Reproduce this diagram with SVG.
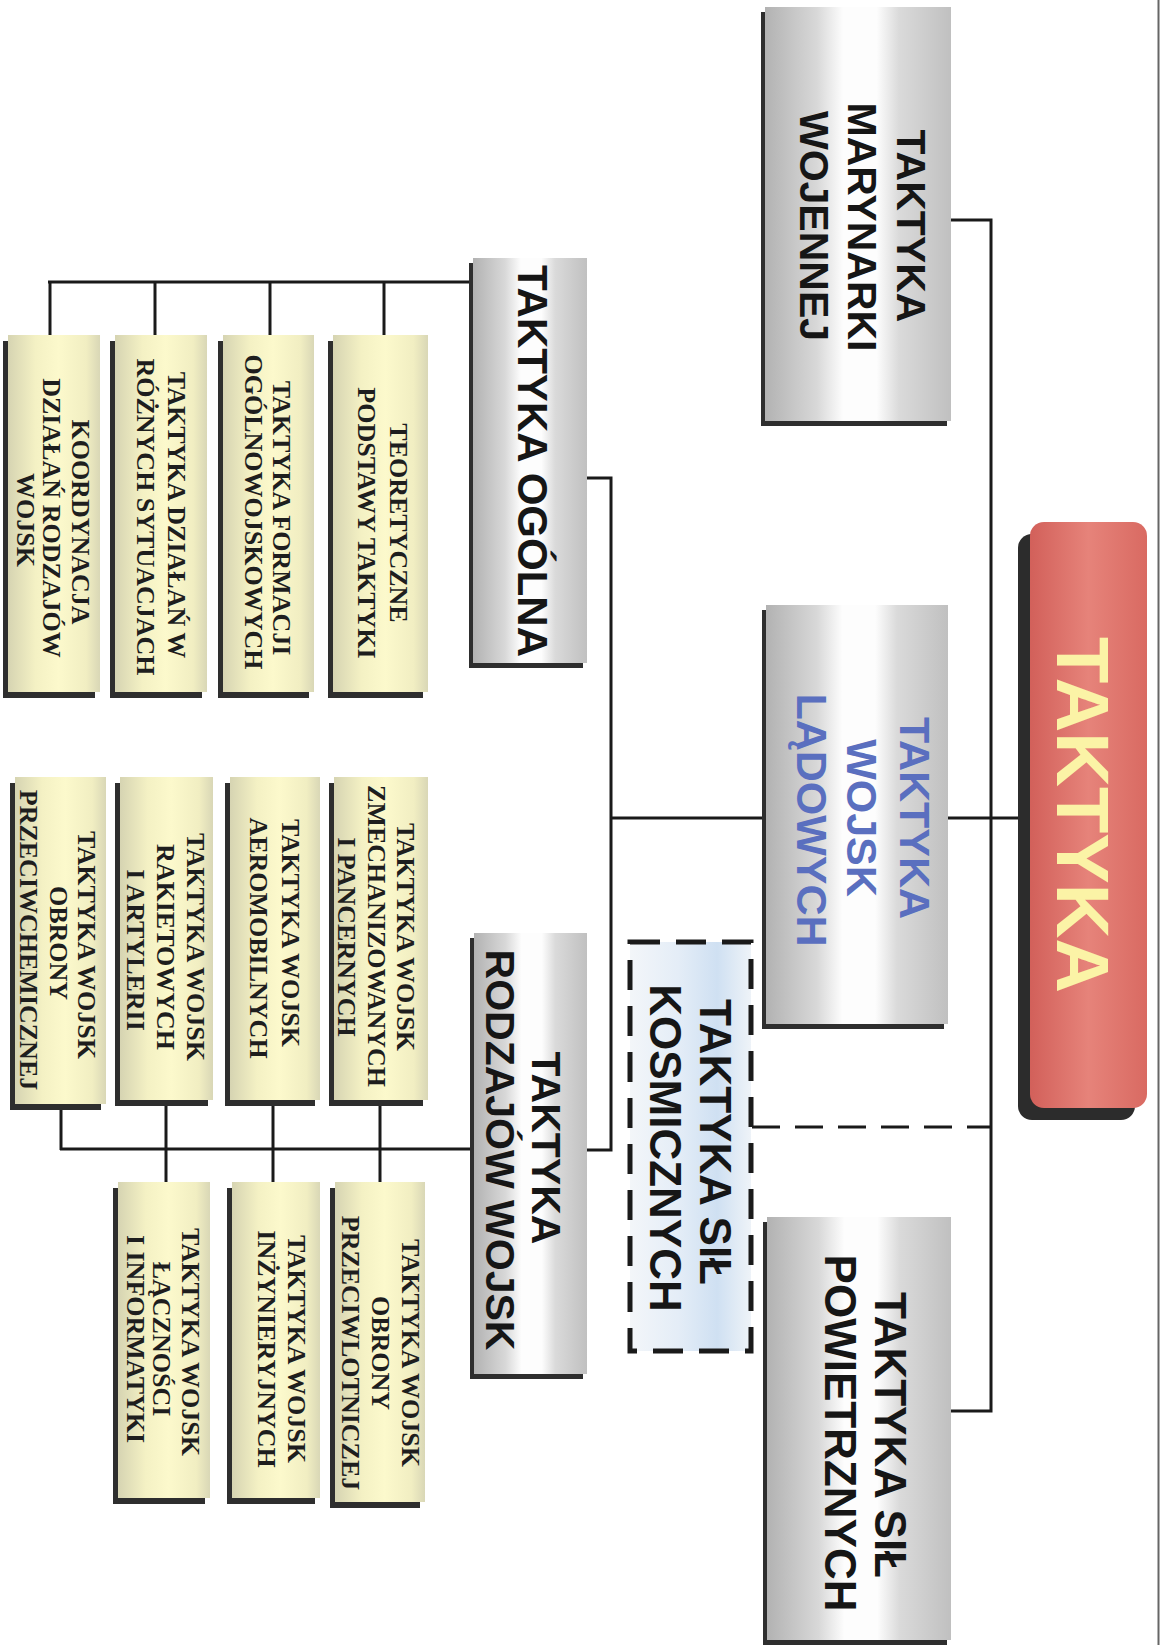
<svg xmlns="http://www.w3.org/2000/svg" width="1163" height="1645" viewBox="0 0 1163 1645">
<defs>
<linearGradient id="gray" x1="0" y1="0" x2="1" y2="0">
<stop offset="0" stop-color="#b2b2b2"/>
<stop offset="0.28" stop-color="#d8d8d8"/>
<stop offset="0.42" stop-color="#fdfdfd"/>
<stop offset="0.6" stop-color="#fdfdfd"/>
<stop offset="0.72" stop-color="#dadada"/>
<stop offset="1" stop-color="#c0c0c0"/>
</linearGradient>
<linearGradient id="yel" x1="0" y1="0" x2="1" y2="0">
<stop offset="0" stop-color="#d6d4b2"/>
<stop offset="0.3" stop-color="#f4f1c4"/>
<stop offset="0.55" stop-color="#fcf9cc"/>
<stop offset="0.85" stop-color="#f1eec2"/>
<stop offset="1" stop-color="#d9d7b6"/>
</linearGradient>
<linearGradient id="blue" x1="0" y1="0" x2="1" y2="0">
<stop offset="0" stop-color="#f3f6f9"/>
<stop offset="0.4" stop-color="#e4edf7"/>
<stop offset="0.72" stop-color="#cfe0f2"/>
<stop offset="1" stop-color="#eef3f8"/>
</linearGradient>
<linearGradient id="red" x1="0" y1="0" x2="1" y2="0">
<stop offset="0" stop-color="#d2605a"/>
<stop offset="0.5" stop-color="#e6837a"/>
<stop offset="1" stop-color="#d96a62"/>
</linearGradient>
<style>
.ln{stroke:#1a1a1a;stroke-width:3;fill:none}
.dash{stroke:#1a1a1a;stroke-width:3;fill:none;stroke-dasharray:28 15}
.sh{fill:#2e2e2e}
.gb{fill:url(#gray)}
.yb{fill:url(#yel)}
.hb{font-family:"Liberation Sans",Arial,sans-serif;font-weight:bold;fill:#161616;text-anchor:middle}
.bl{fill:#5a6fbf}
.sb{font-family:"Liberation Serif","Times New Roman",serif;font-weight:bold;font-size:26px;fill:#1e1e1e;text-anchor:middle}
</style>
</defs>
<rect width="1163" height="1645" fill="#ffffff"/>
<line x1="1158.5" y1="0" x2="1158.5" y2="1645" stroke="#666" stroke-width="2"/>

<g id="connectors">
<polyline class="ln" points="951,220 991,220 991,1411 951,1411"/>
<line class="ln" x1="948" y1="818" x2="1018" y2="818"/>
<line class="dash" x1="752" y1="1127" x2="991" y2="1127"/>
<polyline class="ln" points="587,478 611,478 611,1150 587,1150"/>
<line class="ln" x1="611" y1="818" x2="765" y2="818"/>
<line class="ln" x1="470" y1="282" x2="48" y2="282"/>
<line class="ln" x1="50" y1="282" x2="50" y2="335"/>
<line class="ln" x1="155" y1="282" x2="155" y2="335"/>
<line class="ln" x1="270" y1="282" x2="270" y2="335"/>
<line class="ln" x1="384" y1="282" x2="384" y2="335"/>
<line class="ln" x1="471" y1="1149" x2="60" y2="1149"/>
<line class="ln" x1="61" y1="1104" x2="61" y2="1150"/>
<line class="ln" x1="166" y1="1104" x2="166" y2="1183"/>
<line class="ln" x1="273" y1="1104" x2="273" y2="1183"/>
<line class="ln" x1="380" y1="1104" x2="380" y2="1183"/>
</g>

<g id="taktyka">
<rect x="1018" y="534" width="117" height="586" rx="14" fill="#2c2c2c"/>
<rect x="1030" y="522" width="117" height="586" rx="14" fill="url(#red)"/>
<text transform="translate(1057,815) rotate(90)" font-family="Liberation Sans,Arial,sans-serif" font-weight="bold" font-size="75" fill="#fbf3a6" text-anchor="middle" textLength="356" lengthAdjust="spacingAndGlyphs">TAKTYKA</text>
</g>

<g id="naval">
<rect class="sh" x="761" y="12" width="186" height="414"/>
<rect class="gb" x="765" y="7" width="186" height="414"/>
<text class="hb" font-size="41" transform="translate(897,226) rotate(90)">TAKTYKA</text>
<text class="hb" font-size="41" transform="translate(848,227) rotate(90)">MARYNARKI</text>
<text class="hb" font-size="41" transform="translate(800,226) rotate(90)">WOJENNEJ</text>
</g>

<g id="land">
<rect class="sh" x="762" y="610" width="182" height="419"/>
<rect class="gb" x="766" y="605" width="182" height="419"/>
<text class="hb bl" font-size="43" transform="translate(900,818) rotate(90)">TAKTYKA</text>
<text class="hb bl" font-size="43" transform="translate(847,818) rotate(90)">WOJSK</text>
<text class="hb bl" font-size="43" transform="translate(797,820) rotate(90)">LĄDOWYCH</text>
</g>

<g id="air">
<rect class="sh" x="763" y="1222" width="184" height="423"/>
<rect class="gb" x="767" y="1217" width="184" height="423"/>
<text class="hb" font-size="44" transform="translate(875,1435) rotate(90)">TAKTYKA SIŁ</text>
<text class="hb" font-size="44" transform="translate(825,1433) rotate(90)">POWIETRZNYCH</text>
</g>

<g id="cosmic">
<rect x="630" y="942" width="121" height="409" fill="url(#blue)" stroke="#1a1a1a" stroke-width="5" stroke-dasharray="30 16"/>
<text class="hb" font-size="44" transform="translate(700,1142) rotate(90)">TAKTYKA SIŁ</text>
<text class="hb" font-size="44" transform="translate(650,1148) rotate(90)">KOSMICZNYCH</text>
</g>

<g id="ogolna">
<rect class="sh" x="469" y="263" width="114" height="405"/>
<rect class="gb" x="473" y="258" width="114" height="405"/>
<text class="hb" font-size="42" transform="translate(518,461) rotate(90)">TAKTYKA OGÓLNA</text>
</g>

<g id="rodzajow">
<rect class="sh" x="470" y="938" width="113" height="441"/>
<rect class="gb" x="474" y="933" width="113" height="441"/>
<text class="hb" font-size="41" transform="translate(532,1148) rotate(90)">TAKTYKA</text>
<text class="hb" font-size="41" transform="translate(486,1150) rotate(90)">RODZAJÓW WOJSK</text>
</g>

<g id="teoretyczne">
<rect class="sh" x="328" y="341" width="95" height="357"/>
<rect class="yb" x="333" y="335" width="95" height="357"/>
<text class="sb" transform="translate(390,523) rotate(90)">TEORETYCZNE</text>
<text class="sb" transform="translate(358,523) rotate(90)">PODSTAWY TAKTYKI</text>
</g>
<g id="formacji">
<rect class="sh" x="218" y="341" width="91" height="357"/>
<rect class="yb" x="223" y="335" width="91" height="357"/>
<text class="sb" transform="translate(273,518) rotate(90)">TAKTYKA FORMACJI</text>
<text class="sb" transform="translate(245,512) rotate(90)">OGÓLNOWOJSKOWYCH</text>
</g>
<g id="sytuacjach">
<rect class="sh" x="110" y="341" width="92" height="357"/>
<rect class="yb" x="115" y="335" width="92" height="357"/>
<text class="sb" transform="translate(168,515) rotate(90)">TAKTYKA DZIAŁAŃ W</text>
<text class="sb" transform="translate(137,517) rotate(90)">RÓŻNYCH SYTUACJACH</text>
</g>
<g id="koordynacja">
<rect class="sh" x="3" y="341" width="92" height="357"/>
<rect class="yb" x="8" y="335" width="92" height="357"/>
<text class="sb" transform="translate(72,522) rotate(90)">KOORDYNACJA</text>
<text class="sb" transform="translate(43,518) rotate(90)">DZIAŁAŃ RODZAJÓW</text>
<text class="sb" transform="translate(17,520) rotate(90)">WOJSK</text>
</g>

<g id="zmechanizowanych">
<rect class="sh" x="329" y="783" width="94" height="323"/>
<rect class="yb" x="334" y="777" width="94" height="323"/>
<text class="sb" transform="translate(397,937) rotate(90)">TAKTYKA WOJSK</text>
<text class="sb" transform="translate(368,936) rotate(90)">ZMECHANIZOWANYCH</text>
<text class="sb" transform="translate(338,937) rotate(90)">I PANCERNYCH</text>
</g>
<g id="aeromobilnych">
<rect class="sh" x="225" y="783" width="90" height="323"/>
<rect class="yb" x="230" y="777" width="90" height="323"/>
<text class="sb" transform="translate(282,933) rotate(90)">TAKTYKA WOJSK</text>
<text class="sb" transform="translate(250,938) rotate(90)">AEROMOBILNYCH</text>
</g>
<g id="rakietowych">
<rect class="sh" x="115" y="783" width="93" height="323"/>
<rect class="yb" x="120" y="777" width="93" height="323"/>
<text class="sb" transform="translate(187,947) rotate(90)">TAKTYKA WOJSK</text>
<text class="sb" transform="translate(157,947) rotate(90)">RAKIETOWYCH</text>
<text class="sb" transform="translate(127,950) rotate(90)">I ARTYLERII</text>
</g>
<g id="przeciwchemicznej">
<rect class="sh" x="10" y="783" width="91" height="327"/>
<rect class="yb" x="15" y="777" width="91" height="327"/>
<text class="sb" transform="translate(78,945) rotate(90)">TAKTYKA WOJSK</text>
<text class="sb" transform="translate(50,943) rotate(90)">OBRONY</text>
<text class="sb" transform="translate(20,940) rotate(90)">PRZECIWCHEMICZNEJ</text>
</g>

<g id="przeciwlotniczej">
<rect class="sh" x="330" y="1188" width="90" height="320"/>
<rect class="yb" x="335" y="1182" width="90" height="320"/>
<text class="sb" transform="translate(402,1353) rotate(90)">TAKTYKA WOJSK</text>
<text class="sb" transform="translate(372,1353) rotate(90)">OBRONY</text>
<text class="sb" transform="translate(342,1353) rotate(90)">PRZECIWLOTNICZEJ</text>
</g>
<g id="inzynieryjnych">
<rect class="sh" x="227" y="1188" width="88" height="316"/>
<rect class="yb" x="232" y="1182" width="88" height="316"/>
<text class="sb" transform="translate(288,1349) rotate(90)">TAKTYKA WOJSK</text>
<text class="sb" transform="translate(258,1349) rotate(90)">INŻYNIERYJNYCH</text>
</g>
<g id="lacznosci">
<rect class="sh" x="113" y="1188" width="92" height="316"/>
<rect class="yb" x="118" y="1182" width="92" height="316"/>
<text class="sb" transform="translate(182,1342) rotate(90)">TAKTYKA WOJSK</text>
<text class="sb" transform="translate(153,1339) rotate(90)">ŁĄCZNOŚCI</text>
<text class="sb" transform="translate(127,1339) rotate(90)">I INFORMATYKI</text>
</g>
</svg>
